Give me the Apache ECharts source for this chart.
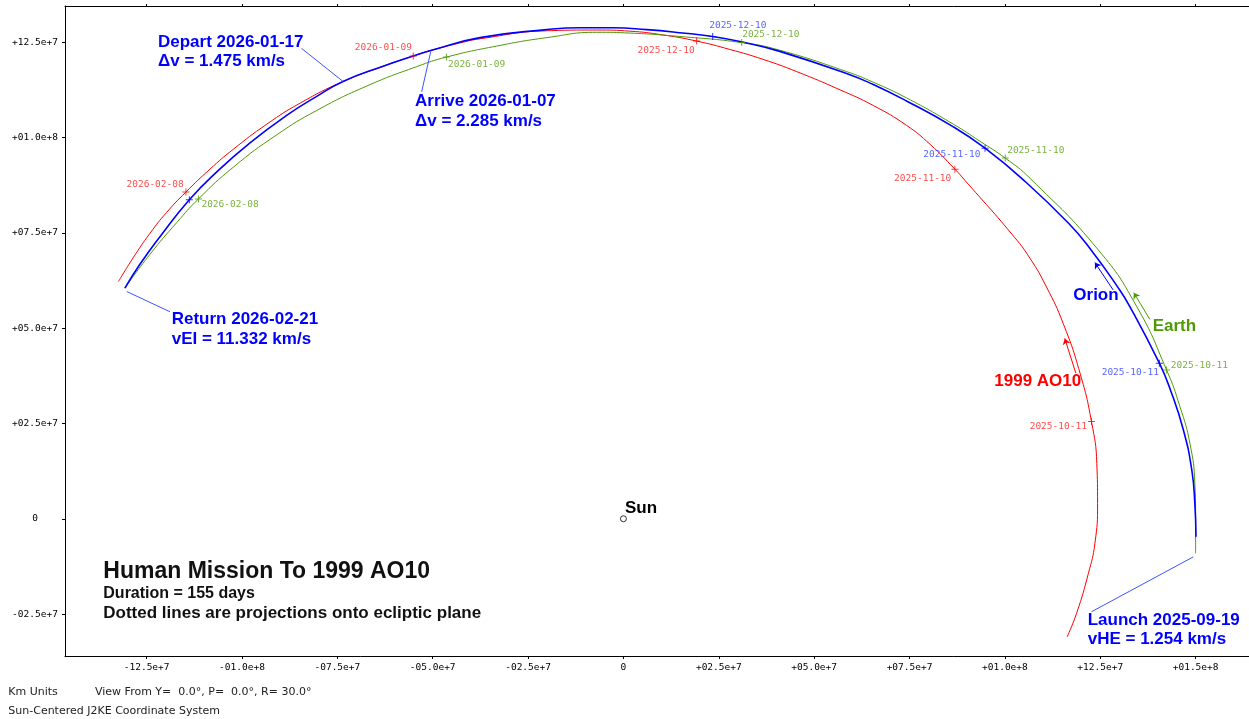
<!DOCTYPE html>
<html><head><meta charset="utf-8">
<script src="https://cdn.jsdelivr.net/npm/echarts@6/dist/echarts.min.js"></script>
<style>html,body{margin:0;padding:0;background:#fff}#c{width:1249px;height:719px}</style>
</head><body><div id="c"></div>
<script>
// Units: millions of km (Sun-centered, projected view)
const xTickValues = [-125,-100,-75,-50,-25,0,25,50,75,100,125,150];
const xTickLabels = ['-12.5e+7','-01.0e+8','-07.5e+7','-05.0e+7','-02.5e+7','0','+02.5e+7','+05.0e+7','+07.5e+7','+01.0e+8','+12.5e+7','+01.5e+8'];
const yTickValues = [-25,0,25,50,75,100,125];
const yTickLabels = ['-02.5e+7','0','+02.5e+7','+05.0e+7','+07.5e+7','+01.0e+8','+12.5e+7'];

const asteroidPath = [[116.3,-31.0],[118.8,-24.8],[121.9,-14.3],[123.6,-6.5],[124.3,4.0],[124.1,14.5],[122.7,25.5],[119.7,38.2],[115.3,51.2],[110.9,60.8],[106.6,68.3],[101.8,74.7],[89.5,88.8],[86.9,91.7],[80.4,98.2],[74.2,103.2],[65.5,108.4],[56.8,112.5],[45.4,117.3],[36.6,120.5],[27.9,123.1],[19.2,125.3],[10.4,126.9],[1.7,127.9],[-7.0,128.2],[-20.1,128.0],[-37.6,125.9],[-42.9,124.8],[-50.7,122.8],[-55.1,121.4],[-63.0,118.7],[-73.5,114.7],[-84.8,109.0],[-93.5,103.5],[-102.3,96.9],[-108.4,91.7],[-114.7,85.7],[-119.8,80.3],[-124.1,74.9],[-128.5,68.5],[-132.4,62.2]];
const orionPath = [[150.1,-4.7],[149.8,4.0],[149.0,12.8],[146.8,23.3],[143.4,33.8],[140.5,40.8],[132.8,55.6],[129.5,60.9],[122.6,70.5],[116.7,77.5],[104.4,89.3],[94.8,97.2],[86.5,102.8],[74.2,109.6],[65.5,113.9],[58.5,116.8],[41.0,122.6],[32.3,124.8],[23.4,126.5],[14.8,127.5],[6.1,128.3],[-2.7,128.8],[-11.4,128.8],[-20.1,128.3],[-37.6,126.2],[-50.3,122.9],[-55.1,121.4],[-63.0,118.7],[-73.5,114.7],[-80.4,110.8],[-88.3,105.8],[-97.9,98.6],[-106.6,91.0],[-113.8,83.7],[-121.5,74.0],[-126.8,66.7],[-130.7,60.5]];
const earthPath = [[150.0,-9.1],[150.0,0.2],[149.8,9.3],[148.5,19.8],[145.9,29.4],[142.4,39.0],[134.6,55.6],[124.5,70.5],[106.6,89.3],[100.1,94.6],[93.5,99.0],[86.5,103.5],[74.2,110.4],[65.5,114.5],[58.5,117.3],[41.0,122.9],[31.0,124.9],[14.8,126.5],[1.7,127.4],[-7.0,127.6],[-20.1,126.2],[-33.2,124.0],[-46.4,121.1],[-54.2,118.6],[-67.3,113.5],[-80.4,107.1],[-90.9,100.7],[-102.3,92.2],[-111.4,83.9],[-117.1,77.7],[-124.1,69.4],[-130.7,60.5]];

const asteroidMarks = [[-114.7,85.7],[-55.1,121.4],[19.2,125.3],[86.9,91.7],[122.7,25.5]];
const asteroidDates = ['2026-02-08','2026-01-09','2025-12-10','2025-11-10','2025-10-11'];
const orionMarks = [[-113.8,83.7],[23.4,126.5],[94.8,97.2],[140.5,40.8]];
const orionDates = ['','2025-12-10','2025-11-10','2025-10-11'];
const earthMarks = [[-111.4,83.9],[-46.4,121.1],[31.0,124.9],[100.1,94.6],[142.4,39.0]];
const earthDates = ['2026-02-08','2026-01-09','2025-12-10','2025-11-10','2025-10-11'];

const departLeader = [[-84.4,123.4],[-73.5,114.7]];
const arriveLeader = [[-52.9,112.0],[-50.5,122.6]];
const returnLeader = [[-130.2,59.6],[-118.9,54.3]];
const launchLeader = [[149.4,-10.0],[122.7,-24.4]];
const orionArrow = [[128.4,60.0],[123.6,67.2]];
const earthArrow = [[138.0,52.3],[133.8,59.3]];
const asteroidArrow = [[118.6,38.2],[115.7,47.3]];
const sunPos = [[0,0]];

// layout (pixel offsets of date labels relative to their markers)
const layout = {
  asteroidOffsets: [[-30.8,-7.7],[-29.8,-8.2],[-30.5,9.7],[-32.2,9.7],[-33.2,5]],
  orionOffsets: [[0,0],[25.1,-10.7],[-33.2,6],[-29.1,9.4]],
  earthOffsets: [[31.5,5.3],[30.1,7.7],[29.1,-8.0],[30.5,-7.3],[32.8,-5]]
};

const RED = '#ff0000', BLUE = '#0000ff', GREEN = '#4e9a06';
const MONO = '"DejaVu Sans Mono", monospace';
const SANS = '"Liberation Sans", Arial, sans-serif';
const PLUS = 'path://M3,0h1v3h3v1h-3v3h-1v-3h-3v-1h3z';

function markerSeries(pts, dates, offs, color, labelColor) {
  return {
    type: 'scatter', symbol: PLUS, symbolSize: 7, z: 5,
    itemStyle: { color: color },
    data: pts.map((p, i) => ({
      value: p,
      label: { show: dates[i] !== '', formatter: dates[i], offset: offs[i] }
    })),
    label: { position: 'inside', align: 'center', verticalAlign: 'middle',
      fontFamily: MONO, fontSize: 9.5, color: labelColor },
    emphasis: { disabled: true }, silent: true
  };
}
function segSeries(seg, color, arrow) {
  return {
    type: 'lines', coordinateSystem: 'cartesian2d', z: 4, silent: true,
    symbol: arrow ? ['none', 'arrow'] : ['none', 'none'], symbolSize: 6,
    lineStyle: { color: color, width: 1, opacity: 1 },
    data: [{ coords: seg }]
  };
}
function lineSeries(path, color, width, z) {
  return { type: 'line', data: path, showSymbol: false, smooth: 0.5, z: z,
    lineStyle: { color: color, width: width }, silent: true, animation: false };
}
function txt(x, y, text, font, fill) {
  return { type: 'text', x: x, y: y, z: 100,
    style: { text: text, font: font, fill: fill, align: 'left', verticalAlign: 'middle' } };
}

const chart = echarts.init(document.getElementById('c'), null, { renderer: 'canvas' });
const B17 = 'bold 17px ' + SANS, B16 = 'bold 16px ' + SANS;
chart.setOption({
  animation: false,
  backgroundColor: '#fff',
  grid: { left: 65, right: 0, top: 6, bottom: 63 },
  xAxis: [{
    type: 'value', min: -146.4, max: 164.0, position: 'bottom',
    axisLine: { show: true, onZero: false, lineStyle: { color: '#000', width: 1 } },
    axisTick: { show: true, length: 3, customValues: xTickValues, lineStyle: { color: '#000' } },
    axisLabel: { customValues: xTickValues, margin: 7, fontFamily: MONO, fontSize: 9.5, color: '#000',
      formatter: v => xTickLabels[xTickValues.indexOf(v)] },
    splitLine: { show: false }
  }, {
    type: 'value', min: -146.4, max: 164.0, position: 'top',
    axisLine: { show: true, onZero: false, lineStyle: { color: '#000', width: 1 } },
    axisTick: { show: true, length: 2, customValues: xTickValues, lineStyle: { color: '#000' } },
    axisLabel: { show: false }, splitLine: { show: false }
  }],
  yAxis: {
    type: 'value', min: -36.0, max: 134.5,
    axisLine: { show: true, onZero: false, lineStyle: { color: '#000', width: 1 } },
    axisTick: { show: true, length: 3, customValues: yTickValues, lineStyle: { color: '#000' } },
    axisLabel: { customValues: yTickValues, margin: 30, align: 'center', fontFamily: MONO, fontSize: 9.5, color: '#000',
      formatter: v => yTickLabels[yTickValues.indexOf(v)] },
    splitLine: { show: false }
  },
  series: [
    lineSeries(asteroidPath, RED, 1, 2),
    lineSeries(earthPath, GREEN, 1, 2),
    lineSeries(orionPath, BLUE, 1.6, 3),
    markerSeries(asteroidMarks, asteroidDates, layout.asteroidOffsets, RED, '#ff2020'),
    markerSeries(orionMarks, orionDates, layout.orionOffsets, BLUE, '#2a3cff'),
    markerSeries(earthMarks, earthDates, layout.earthOffsets, GREEN, '#5aa010'),
    segSeries(departLeader, '#3a55ff', false),
    segSeries(arriveLeader, '#3a55ff', false),
    segSeries(returnLeader, '#3a55ff', false),
    segSeries(launchLeader, '#3a55ff', false),
    segSeries(orionArrow, BLUE, true),
    segSeries(earthArrow, GREEN, true),
    segSeries(asteroidArrow, RED, true),
    { type: 'scatter', data: sunPos, symbol: 'circle', symbolSize: 6, z: 6, silent: true,
      itemStyle: { color: '#fff', borderColor: '#000', borderWidth: 1 } }
  ],
  graphic: [
    txt(158, 42.3, 'Depart 2026-01-17', B17, BLUE),
    txt(158, 61.7, 'Δv = 1.475 km/s', B17, BLUE),
    txt(415, 101.7, 'Arrive 2026-01-07', B17, BLUE),
    txt(415, 121.7, 'Δv = 2.285 km/s', B17, BLUE),
    txt(171.7, 319.3, 'Return 2026-02-21', B17, BLUE),
    txt(171.7, 339.3, 'vEI = 11.332 km/s', B17, BLUE),
    txt(1087.7, 620, 'Launch 2025-09-19', B17, BLUE),
    txt(1087.7, 639.3, 'vHE = 1.254 km/s', B17, BLUE),
    txt(1073.3, 295, 'Orion', B17, BLUE),
    txt(1152.7, 326.7, 'Earth', B17, GREEN),
    txt(994.3, 381.7, '1999 AO10', B17, RED),
    txt(625, 508.3, 'Sun', B17, '#000'),
    txt(103.3, 572, 'Human Mission To 1999 AO10', 'bold 23px ' + SANS, '#111'),
    txt(103.3, 594, 'Duration = 155 days', B16, '#111'),
    txt(103.3, 613.5, 'Dotted lines are projections onto ecliptic plane', 'bold 17px ' + SANS, '#111'),
    txt(8.3, 691.7, 'Km Units', '11px "DejaVu Sans", sans-serif', '#222'),
    txt(95, 691.7, 'View From Y=  0.0°, P=  0.0°, R= 30.0°', '11px "DejaVu Sans", sans-serif', '#222'),
    txt(8.3, 710.7, 'Sun-Centered J2KE Coordinate System', '11px "DejaVu Sans", sans-serif', '#222')
  ]
});
</script></body></html>
